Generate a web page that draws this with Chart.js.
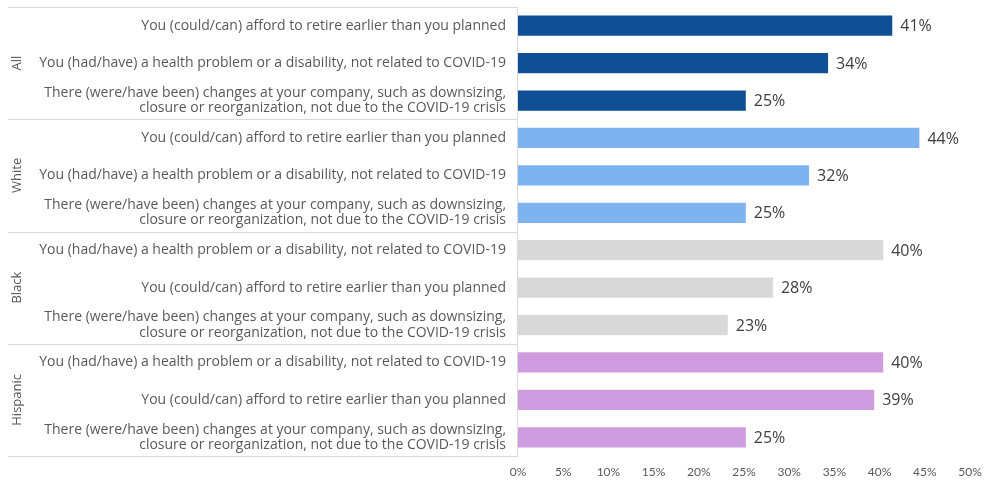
<!DOCTYPE html>
<html>
<head>
<meta charset="utf-8">
<script src="https://cdn.jsdelivr.net/npm/chart.js@4"></script>
<style>
  html, body { margin: 0; padding: 0; background: #fff; }
  #wrap { width: 990px; height: 482px; }
</style>
</head>
<body>
<div id="wrap"><canvas id="chart" width="990" height="482"></canvas></div>
<script>
const AFFORD = 'You (could/can) afford to retire earlier than you planned';
const HEALTH = 'You (had/have) a health problem or a disability, not related to COVID-19';
const CHANGES = ['There (were/have been) changes at your company, such as downsizing,',
                 'closure or reorganization, not due to the COVID-19 crisis'];

const groups = ['All', 'White', 'Black', 'Hispanic'];
const groupColors = ['#114f94', '#7fb3ef', '#d9d9d9', '#ce9cdf'];

const categories = [
  AFFORD, HEALTH, CHANGES,
  AFFORD, HEALTH, CHANGES,
  HEALTH, AFFORD, CHANGES,
  HEALTH, AFFORD, CHANGES
];
const values = [
  41.4, 34.3, 25.2,
  44.4, 32.2, 25.2,
  40.4, 28.2, 23.2,
  40.4, 39.4, 25.2
];
const xTicks = [0, 5, 10, 15, 20, 25, 30, 35, 40, 45, 50];

const FONT = '"Open Sans", Lato, sans-serif';
const barColors = values.map((v, i) => groupColors[Math.floor(i / 3)]);

// separator lines, group names and value labels
const extras = {
  id: 'extras',
  afterDatasetsDraw(chart) {
    const ctx = chart.ctx, area = chart.chartArea, y = chart.scales.y;
    ctx.save();
    ctx.strokeStyle = '#d9d9d9';
    ctx.lineWidth = 1;
    const edges = [area.top];
    for (let g = 1; g < groups.length; g++) {
      edges.push((y.getPixelForValue(g * 3 - 1) + y.getPixelForValue(g * 3)) / 2);
    }
    edges.push(area.bottom);
    edges.forEach(e => {
      ctx.beginPath();
      ctx.moveTo(8, Math.round(e) + 0.5);
      ctx.lineTo(area.left, Math.round(e) + 0.5);
      ctx.stroke();
    });
    ctx.beginPath();
    ctx.moveTo(Math.round(area.left) - 0.5, area.top);
    ctx.lineTo(Math.round(area.left) - 0.5, area.bottom + 1);
    ctx.stroke();

    ctx.fillStyle = '#595959';
    ctx.font = '13px ' + FONT;
    ctx.textAlign = 'center';
    ctx.textBaseline = 'middle';
    groups.forEach((g, i) => {
      const cy = y.getPixelForValue(i * 3 + 1);
      ctx.save();
      ctx.translate(17, cy);
      ctx.rotate(-Math.PI / 2);
      ctx.fillText(g, 0, 0);
      ctx.restore();
    });

    const meta = chart.getDatasetMeta(0);
    ctx.fillStyle = '#404040';
    ctx.font = '16px ' + FONT;
    ctx.textAlign = 'left';
    meta.data.forEach((bar, i) => {
      ctx.fillText(Math.round(values[i]) + '%', bar.x + 8, bar.y + 1);
    });
    ctx.restore();
  }
};

new Chart(document.getElementById('chart'), {
  type: 'bar',
  data: {
    labels: categories,
    datasets: [{
      data: values,
      backgroundColor: barColors,
      barPercentage: 0.54,
      categoryPercentage: 1
    }]
  },
  options: {
    indexAxis: 'y',
    responsive: false,
    animation: false,
    layout: { padding: { left: 8, top: 7, right: 20, bottom: 0 } },
    plugins: { legend: { display: false }, tooltip: { enabled: false } },
    scales: {
      x: {
        min: 0, max: 50,
        afterBuildTicks(scale) { scale.ticks = xTicks.map(v => ({ value: v })); },
        afterFit(scale) { scale.height = 26; scale.paddingLeft = 0; scale.paddingRight = 0; },
        grid: { display: false, drawTicks: false },
        border: { display: false },
        ticks: {
          padding: 9,
          color: '#595959',
          font: { family: 'Lato, sans-serif', size: 12 },
          callback: v => v + '%'
        }
      },
      y: {
        afterFit(scale) { scale.width = 510; scale.paddingTop = 0; scale.paddingBottom = 0; },
        grid: { display: false, drawTicks: false },
        border: { display: false },
        ticks: {
          padding: 12,
          autoSkip: false,
          color: '#595959',
          font: { family: FONT, size: 14, lineHeight: 1.08 }
        }
      }
    }
  },
  plugins: [extras]
});
</script>
</body>
</html>
